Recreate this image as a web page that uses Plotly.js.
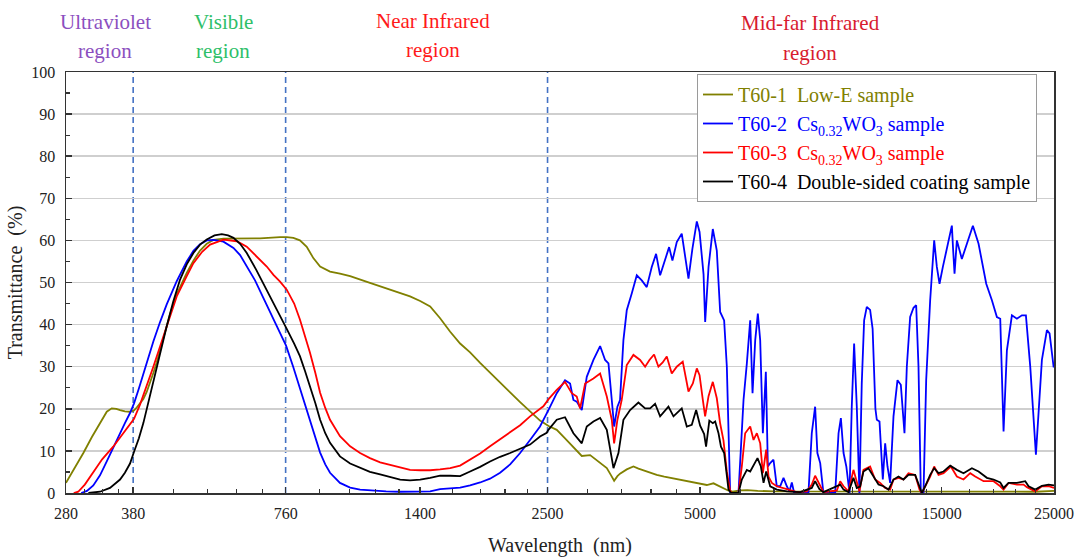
<!DOCTYPE html>
<html>
<head>
<meta charset="utf-8">
<script src="https://cdn.plot.ly/plotly-3.0.1.min.js"></script>
<style>html,body{margin:0;padding:0;background:#fff;}#chart{width:1079px;height:559px;}</style>
</head>
<body>
<div id="chart"></div>
<script>
// ---------- data ----------
const seriesNames = [
  'T60-1\u00a0\u00a0Low-E sample',
  'T60-2\u00a0\u00a0Cs<sub>0.32</sub>WO<sub>3</sub> sample',
  'T60-3\u00a0\u00a0Cs<sub>0.32</sub>WO<sub>3</sub> sample',
  'T60-4\u00a0\u00a0Double-sided coating sample'
];
const seriesColors = ['#808000', '#0000ff', '#ff0000', '#000000'];

const wl1 = [280,290,303,315,326.8,337,344.7,352,358,366,374.6,381.5,386.2,392,398,404.1,410,416.5,422.9,429.4,442.6,449.4,463.2,484.8,499.7,515.1,531,547.3,572.8,617.9,676.7,741,763.8,787.3,811,836.5,862,889,930,973,1019,1115,1222,1338,1401,1466,1534,1606,1680,1758,1840,1925,2015,2109,2207,2309,2416,2512,2607,2707,2812,2921,3034,3151,3273,3333,3384,3435,3476,3584,3694,3780,3866,4000,4107,4250,4432,4600,4780,4950,5157,5316,5420,5563,5680,5800,6000,6200,6500,7000,7500,8000,9000,10000,11000,12000,13500,15000,17000,19000,21000,23000,25000];
const t1 = [2.4,5.5,9.5,13.3,16.6,19.3,20.1,20.0,19.7,19.4,19.3,19.6,20.3,21.2,22.3,24,26,28.5,31,34,39.8,42.5,47.2,52.3,55.2,57.6,59.2,60.1,60.4,60.4,60.5,60.8,60.8,60.6,60,58.5,55.8,53.8,52.6,52.1,51.5,49.9,48.3,46.7,45.6,44.3,41.5,38.3,35.5,33.4,30.9,28.5,26.3,23.9,21.6,19.3,17.2,15.9,15,13,10.9,8.8,9,7.5,5.9,4.3,2.9,4,4.6,5.6,6.3,5.8,5.4,4.8,4.3,3.9,3.5,3.1,2.7,2.4,1.9,2.3,1.8,1.2,0.6,0.3,0.6,0.7,0.5,0.4,0.4,0.3,0.3,0.4,0.3,0.3,0.4,0.3,0.3,0.4,0.3,0.3,0.5];

const wl2 = [300,308,317,326.8,337,350,358,366,374.6,381.5,390,398,407,416.5,429.4,442.6,463.2,484.8,499.7,515.1,531,547.3,572.8,599.5,617.9,640,661.3,692,724.4,761.5,786.5,811,830,849,870,889,910,930,973,1019,1066,1115,1200,1279,1380,1466,1534,1606,1680,1758,1840,1925,2015,2109,2207,2309,2416,2510,2607,2707,2770,2812,2855,2921,2988,3080,3175,3248,3298,3348,3384,3435,3476,3530,3584,3666,3751,3837,3925,4015,4095,4171,4247,4345,4411,4499,4602,4680,4745,4830,4928,4990,5081,5119,5198,5300,5397,5480,5580,5649,5735,5956,6094,6187,6282,6349,6427,6504,6574,6654,6745,6807,6880,6984,7089,7199,7309,7421,7511,7591,7672,8186,8311,8439,8526,8636,8763,9245,9387,9487,9603,9725,9867,9969,10076,10199,10322,10432,10545,10673,10836,10960,11100,11171,11308,11480,11603,11726,11869,12051,12272,12459,12668,12804,12999,13200,13360,13502,13646,13813,13982,14238,14500,14677,14856,15083,15407,15713,15800,15905,16075,16444,16825,17290,17741,18371,18851,19284,19579,19877,20181,20646,21121,21606,22003,22441,23026,23662,24207,24502,24951,25000];
const t2 = [0,0.5,1.8,4.2,7.5,11.8,14.2,16.6,19,21.3,24.8,28.4,32.3,36,40.6,44.8,50.3,55,57.5,59.1,60,60.1,59.7,58.2,56.5,53.5,50.5,45.5,40.5,35,30,25,21.3,17.4,13.2,9.6,6.8,4.8,2.4,1.3,0.8,0.6,0.4,0.3,0.3,0.4,0.9,1.1,1.3,1.8,2.5,3.4,4.8,6.8,9.5,12.6,15.8,19.7,23.7,26.8,26,22.1,21.7,19.7,27.6,31.6,34.9,31.6,30.8,22.1,15.8,20.5,22.1,36.3,43.4,47.4,51.7,50.5,48.9,53.7,56.8,51.7,54.5,58.4,55.2,59.6,61.6,55,50.9,58,64.5,62,52,40.6,53.7,62.7,57.6,43,41,30,0,0,22.1,30.8,41,23.7,36.3,42.6,36.3,14.2,28.8,6.3,7.1,7.9,1.6,1.6,3.6,1.6,0.4,2.5,0,0,14.2,20.5,9.5,7.1,0,0,14.2,17.8,9.5,6.3,0,20.5,35.5,20.5,0,26,41,44.2,43.5,39,20,17.4,17,3.2,11.8,6.3,2.4,18.2,26.8,25.7,14.2,30,41.8,44,44.6,30,0,0,26.8,45.8,60,53.7,49.7,53.7,58.4,63.5,58,52.1,60,55.6,59.2,63.5,59.2,49.7,45.8,41.8,41.4,14.6,33.9,42.2,41.4,42.2,42.2,30,9.1,31.6,38.7,37.9,30,30];

const wl3 = [290,296,305,317,330,347,360,374.6,381.5,392,404,416.5,429.4,442.6,463.2,484.8,499.7,520,539.1,572.8,608.7,636.9,656.5,697.5,719,741,763.8,790,811,830,849,870,889,910,930,973,1019,1066,1115,1168,1222,1279,1338,1401,1466,1534,1606,1680,1758,1840,1925,2015,2109,2207,2309,2400,2453,2512,2607,2707,2791,2855,2899,2966,3080,3175,3273,3348,3384,3435,3503,3584,3694,3808,3896,3973,4058,4139,4220,4299,4398,4499,4623,4745,4840,4928,4990,5060,5118,5198,5300,5397,5480,5563,5650,5735,5780,5956,6047,6140,6282,6378,6475,6574,6654,6756,6828,6932,7089,7421,7765,8127,8311,8439,8566,8763,9316,9458,9603,9822,10045,10199,10322,10513,10836,11086,11341,11603,11869,12051,12328,12611,12901,13299,13564,13709,13918,14238,14500,14789,15129,15642,16075,16569,17082,17475,18150,18994,19579,19877,20335,21121,21771,22103,22956,23662,24391,25000];
const t3 = [0,0.3,2,4.8,8,11,13.5,16.3,17.6,21,25.3,30,34.8,39.5,46.7,51.5,54.6,57.3,59,60.2,59.8,58.5,57,53.8,51.8,50.2,48.3,45,41.2,37.3,33.3,28.5,23.8,20.2,17.4,13.5,11.1,9.5,8.3,7.3,6.7,6.1,5.5,5.4,5.4,5.6,5.9,6.5,7.9,9.4,11.1,12.7,14.3,16.1,18.2,19.8,20.6,22.3,24.5,26.4,23.7,22.9,20.1,26,27.2,28.4,22.9,17.4,11.8,17.4,22.1,30.4,32.8,31.6,30,31.6,32.9,30,31,32.4,28.4,30,31.2,24.1,26,29.6,28,22.5,18.2,23,26.4,22.5,16.5,12.5,5,0.5,0,0,6.3,14.2,15.8,12.6,14.2,11.8,4.7,10.3,3.9,2.4,1.6,0.9,0.2,0.4,2,4.1,2.4,0.2,0.6,2.8,1.6,0.4,5.5,2.4,0.4,5.5,6.3,3.2,2.4,1.2,0.8,3.2,3.6,3.2,4.7,4.3,0.8,0,1.6,3.9,6.3,4.3,4.7,6.3,3.9,3.2,4.7,3.9,2.8,2.8,1.6,0.8,2.4,2,2,1.4,0.4,1.6,1.6,1.2];

const wl4 = [310,326.8,342,358,366,374.6,381.5,390,398,407,416.5,429.4,442.6,456,470.3,484.8,499.7,515,531,550,568.5,585,599.5,617.9,636.9,665,697.5,730,763.8,790,811,830,849,870,889,910,930,973,1019,1066,1115,1168,1222,1279,1338,1401,1466,1534,1606,1680,1758,1840,1925,2015,2109,2207,2309,2416,2491,2510,2607,2707,2812,2921,2988,3080,3175,3273,3333,3374,3451,3530,3639,3779,3896,3985,4077,4171,4332,4432,4602,4709,4817,4913,5003,5095,5140,5217,5300,5357,5439,5500,5580,5692,5760,5956,6047,6187,6282,6378,6494,6594,6675,6756,6880,7089,7421,7885,8311,8439,8605,8763,9458,9603,9822,10045,10199,10354,10513,10754,11002,11256,11515,11780,12051,12328,12611,12901,13299,13564,13709,13918,14238,14500,14789,15129,15595,16075,16569,17212,17741,18427,18994,19579,19877,20335,21121,21937,22272,22956,23662,24391,25000];
const t4 = [0,0.3,1.2,3.2,4.8,7,9.8,13,16.6,21.5,27,33.5,39.6,45.5,50.7,54.3,57,59,60.2,61.2,61.5,61.2,60.6,59.2,57,53,48.3,43.5,39,35.5,32.5,29,25.5,21.3,17.4,14.2,11.9,8.7,7,5.9,5,4.4,3.8,3.2,3,3.2,3.6,4.1,4.1,4,5.1,6.2,7.5,8.6,9.5,10.5,11.5,13.4,14.3,15,17.4,18,14.2,11.8,15.8,17,17.8,15,9.5,5.9,9.5,17.4,19.7,21.5,20.1,20.1,21.2,18.2,20.5,18.2,20.1,15.8,16.2,19.7,16,14,11,17.2,16.6,17,14.2,11,9.5,0.8,0,0,3.2,5.5,5.1,6.7,8.3,6.3,2.4,5.1,1.6,0.8,0.4,0.2,1.2,2.8,0.9,0.2,2,0.8,0.2,3.6,1.2,1.5,5.1,5.9,3.9,2,1.6,0.8,3.2,3.9,3.2,4.3,4.3,1.2,0,1.6,4.3,5.9,4.7,5.1,6.5,5.5,4.7,5.9,5.1,3.6,3.2,2.5,1.2,2.4,2.4,2.8,1.6,0.8,1.7,2,1.8];

const xTickVals = [280, 380, 760, 1400, 2500, 5000, 10000, 15000, 25000];
const xTickText = ['280', '380', '760', '1400', '2500', '5000', '10000', '15000', '25000'];
const xMinorTicks = [305, 330, 355, 456, 532, 608, 684, 888, 1016, 1144, 1272, 1620, 1840, 2060, 2280, 3000, 3500, 4000, 4500, 6000, 7000, 8000, 9000, 11000, 12000, 13000, 14000, 17000, 19000, 21000, 23000];
const regionBounds = [380, 760, 2500];
const regionLabels = [
  ['Ultraviolet', 'region'],
  ['Visible', 'region'],
  ['Near Infrared', 'region'],
  ['Mid-far Infrared', 'region']
];
const regionColors = ['#8c4fc0', '#2fbf6a', '#ff1a1a', '#d81b2f'];

// ---------- build ----------
const xs = [wl1, wl2, wl3, wl4];
const ys = [t1, t2, t3, t4];
const traces = xs.map((x, i) => ({
  type: 'scatter', mode: 'lines', x: x, y: ys[i],
  name: '<span style="color:' + seriesColors[i] + '">' + seriesNames[i] + '</span>',
  line: {color: seriesColors[i], width: 1.8}
}));

const L = 66, R = 1054, T = 72, B = 493;
const plotH = B - T, plotW = R - L;
const labelX = [105, 223, 433, 810];
const labelY = [[22, 51.5], [22, 51.5], [21, 50.5], [23.4, 53]];
const annotations = [];
regionLabels.forEach((pair, i) => {
  pair.forEach((txt, j) => {
    annotations.push({
      xref: 'paper', yref: 'paper', x: (labelX[i] - L) / plotW, y: 1 + (T - labelY[i][j]) / plotH,
      xanchor: 'center', yanchor: 'middle', showarrow: false, text: txt,
      font: {size: 21, color: regionColors[i]}
    });
  });
});

const shapes = regionBounds.map(v => ({
  type: 'line', xref: 'x', yref: 'paper', x0: v, x1: v, y0: 0, y1: 1, layer: 'below',
  line: {color: '#4472c4', width: 1.6, dash: '6px,4px'}
}));

const layout = {
  width: 1079, height: 559,
  margin: {l: L, r: 1079 - R, t: T, b: 559 - B},
  paper_bgcolor: '#ffffff', plot_bgcolor: '#ffffff',
  font: {family: '"Liberation Serif", "Times New Roman", serif', size: 16, color: '#222'},
  showlegend: true,
  legend: {
    x: (697 - L) / plotW, y: 1 - (74 - T) / plotH, xanchor: 'left', yanchor: 'top',
    bgcolor: '#ffffff', bordercolor: '#9a9a9a', borderwidth: 1,
    font: {size: 20, color: '#222'}, tracegroupgap: 0
  },
  xaxis: {
    type: 'log', range: [Math.log10(280), Math.log10(25000)],
    tickmode: 'array', tickvals: xTickVals, ticktext: xTickText,
    ticks: 'inside', ticklen: 6, tickwidth: 1.5, tickcolor: '#333',
    showline: true, linecolor: '#333', linewidth: 1.5, mirror: true,
    showgrid: false, zeroline: false, ticklabelstandoff: 5,
    minor: {tickmode: 'array', tickvals: xMinorTicks, ticks: 'inside', ticklen: 4, tickwidth: 1.2, tickcolor: '#333', showgrid: false},
    title: {text: 'Wavelength\u00a0\u00a0(nm)', font: {size: 20, color: '#222'}, standoff: 17}
  },
  yaxis: {
    range: [0, 100], tickmode: 'linear', tick0: 0, dtick: 10,
    ticks: 'inside', ticklen: 6, tickwidth: 1.5, tickcolor: '#333',
    showline: true, linecolor: '#333', linewidth: 1.5, mirror: true,
    showgrid: true, gridcolor: '#cfcfcf', gridwidth: 1.5, zeroline: false, ticklabelstandoff: 6,
    minor: {dtick: 5, ticks: 'inside', ticklen: 4, tickwidth: 1.2, tickcolor: '#333', showgrid: false},
    title: {text: 'Transmittance\u00a0\u00a0(%)', font: {size: 20, color: '#222'}, standoff: 3}
  },
  annotations: annotations,
  shapes: shapes
};

Plotly.newPlot('chart', traces, layout, {displayModeBar: false, staticPlot: true});
</script>
</body>
</html>
